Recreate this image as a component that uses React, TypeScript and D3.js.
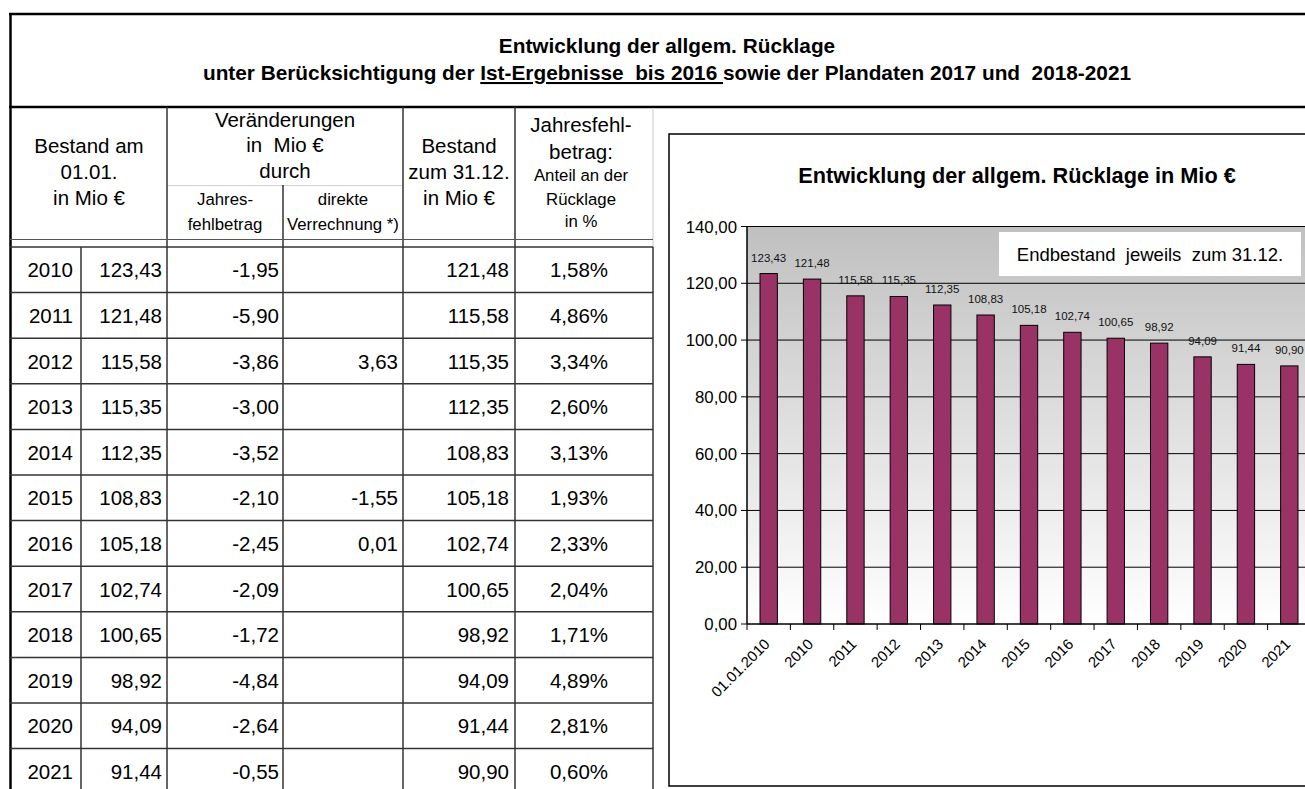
import React from 'react'
import * as d3 from 'd3'

const years = ['2010', '2011', '2012', '2013', '2014', '2015', '2016', '2017', '2018', '2019', '2020', '2021']
const bestandStart = [123.43, 121.48, 115.58, 115.35, 112.35, 108.83, 105.18, 102.74, 100.65, 98.92, 94.09, 91.44]
const fehlbetrag = [-1.95, -5.9, -3.86, -3.0, -3.52, -2.1, -2.45, -2.09, -1.72, -4.84, -2.64, -0.55]
const direkt = [null, null, 3.63, null, null, -1.55, 0.01, null, null, null, null, null]
const bestandEnd = [121.48, 115.58, 115.35, 112.35, 108.83, 105.18, 102.74, 100.65, 98.92, 94.09, 91.44, 90.9]
const anteil = [1.58, 4.86, 3.34, 2.6, 3.13, 1.93, 2.33, 2.04, 1.71, 4.89, 2.81, 0.6]

const chartCats = ['01.01.2010', '2010', '2011', '2012', '2013', '2014', '2015', '2016', '2017', '2018', '2019', '2020', '2021']
const chartValues = [123.43, 121.48, 115.58, 115.35, 112.35, 108.83, 105.18, 102.74, 100.65, 98.92, 94.09, 91.44, 90.9]
const yTicks = [0, 20, 40, 60, 80, 100, 120, 140]

const de = d3.formatLocale({ decimal: ',', thousands: '.', grouping: [3], currency: ['', ' €'], minus: '-' })
const f2 = de.format('.2f')

const FONT = '"Liberation Sans", Arial, sans-serif'

export default function App() {
  // table geometry
  const rowY = d3.scaleBand<string>().domain(years).range([247, 247 + years.length * 45.6])
  const colX = { left: 10, c1: 81, c2: 167, c3: 283, c4: 403, c5: 515, right: 653 }

  // chart scales
  const x = d3.scaleBand<string>().domain(chartCats).range([747, 1311])
  const y = d3.scaleLinear().domain([0, 140]).range([624, 226.5])
  const barW = x.bandwidth() * 0.4

  const tableFs = 20.5
  const cell = (txt: string, xx: number, yy: number, anchor = 'end') => (
    <text x={xx} y={yy} textAnchor={anchor} fontSize={tableFs} fill="#000">{txt}</text>
  )

  return (
    <svg width={1305} height={789} style={{ position: 'absolute', left: 0, top: 0, display: 'block', fontFamily: FONT }}>
      <defs>
        <linearGradient id="plotbg" x1="0" y1="0" x2="0" y2="1">
          <stop offset="0%" stopColor="#c0c0c0" />
          <stop offset="100%" stopColor="#ffffff" />
        </linearGradient>
      </defs>
      <rect x={0} y={0} width={1305} height={789} fill="#fff" />

      {/* frame and title */}
      <line x1={9} x2={1305} y1={14} y2={14} stroke="#000" strokeWidth={2.5} />
      <line x1={9} x2={1305} y1={107} y2={107} stroke="#000" strokeWidth={2.5} />
      <line x1={10.5} x2={10.5} y1={13} y2={789} stroke="#000" strokeWidth={2.5} />
      <text x={667} y={53} textAnchor="middle" fontSize={20.8} fontWeight="bold">Entwicklung der allgem. Rücklage</text>
      <text x={667} y={80} textAnchor="middle" fontSize={20.8} fontWeight="bold" style={{ whiteSpace: 'pre' }}>
        <tspan>unter Berücksichtigung der </tspan>
        <tspan style={{ textDecoration: 'underline' }}>Ist-Ergebnisse  bis 2016 </tspan>
        <tspan>sowie der Plandaten 2017 und  2018-2021</tspan>
      </text>

      {/* table header */}
      <g fontSize={20.5} textAnchor="middle">
        <text x={89} y={153}>Bestand am</text>
        <text x={89} y={179}>01.01.</text>
        <text x={89} y={205}>in Mio €</text>
        <text x={285} y={127}>Veränderungen</text>
        <text x={285} y={152} style={{ whiteSpace: 'pre' }}>in  Mio €</text>
        <text x={285} y={178}>durch</text>
        <text x={459} y={153}>Bestand</text>
        <text x={459} y={179}>zum 31.12.</text>
        <text x={459} y={205}>in Mio €</text>
        <text x={581} y={132}>Jahresfehl-</text>
        <text x={581} y={159}>betrag:</text>
      </g>
      <g fontSize={16.8} textAnchor="middle">
        <text x={225} y={205}>Jahres-</text>
        <text x={225} y={230}>fehlbetrag</text>
        <text x={343} y={205}>direkte</text>
        <text x={343} y={230}>Verrechnung *)</text>
        <text x={581} y={181}>Anteil an der</text>
        <text x={581} y={205}>Rücklage</text>
        <text x={581} y={227}>in %</text>
      </g>
      <line x1={colX.c2} x2={colX.c4} y1={185.5} y2={185.5} stroke="#d0d0d0" strokeWidth={1} />
      <line x1={colX.c2} x2={colX.c2} y1={107} y2={247} stroke="#333" strokeWidth={1.5} />
      <line x1={colX.c4} x2={colX.c4} y1={107} y2={247} stroke="#333" strokeWidth={1.5} />
      <line x1={colX.c5} x2={colX.c5} y1={107} y2={247} stroke="#333" strokeWidth={1.5} />
      <line x1={colX.c3} x2={colX.c3} y1={185} y2={247} stroke="#333" strokeWidth={1.5} />
      <line x1={colX.right} x2={colX.right} y1={108} y2={247} stroke="#ddd" strokeWidth={1.5} />
      <line x1={colX.left} x2={colX.right} y1={239.5} y2={239.5} stroke="#555" strokeWidth={1} />
      <line x1={colX.left} x2={colX.right} y1={247} y2={247} stroke="#333" strokeWidth={1.5} />

      {/* table body */}
      {years.map((yr, i) => {
        const top = rowY(yr) as number
        const bl = top + rowY.bandwidth() / 2 + 7.5
        return (
          <g key={yr}>
            <line x1={colX.left} x2={colX.right} y1={top + rowY.bandwidth()} y2={top + rowY.bandwidth()} stroke="#333" strokeWidth={1.5} />
            {cell(yr, 73, bl)}
            {cell(f2(bestandStart[i]), 162, bl)}
            {cell(f2(fehlbetrag[i]), 279, bl)}
            {direkt[i] !== null ? cell(f2(direkt[i] as number), 398, bl) : null}
            {cell(f2(bestandEnd[i]), 509, bl)}
            {cell(f2(anteil[i]) + '%', 579, bl, 'middle')}
          </g>
        )
      })}
      {[colX.c1, colX.c2, colX.c3, colX.c4, colX.c5, colX.right].map((cx) => (
        <line key={cx} x1={cx} x2={cx} y1={247} y2={789} stroke="#333" strokeWidth={1.5} />
      ))}

      {/* chart box */}
      <rect x={669} y={134} width={760} height={652} fill="#fff" stroke="#000" strokeWidth={1.5} />
      <text x={1017} y={183} textAnchor="middle" fontSize={21.7} fontWeight="bold">Entwicklung der allgem. Rücklage in Mio €</text>

      <rect x={747} y={y(140)} width={1311 - 747} height={y(0) - y(140)} fill="url(#plotbg)" />
      {yTicks.map((t) => (
        <g key={t}>
          {t > 0 && <line x1={747} x2={1311} y1={y(t)} y2={y(t)} stroke="#000" strokeWidth={1} />}
          <line x1={741} x2={747} y1={y(t)} y2={y(t)} stroke="#000" strokeWidth={1} />
          <text x={737} y={y(t) + 6} textAnchor="end" fontSize={16.8}>{f2(t)}</text>
        </g>
      ))}

      <rect x={999} y={232} width={302} height={44} fill="#fff" />
      <text x={1150} y={261} textAnchor="middle" fontSize={18.5} style={{ whiteSpace: 'pre' }}>Endbestand  jeweils  zum 31.12.</text>

      {chartCats.map((c, i) => {
        const cx = (x(c) as number) + x.bandwidth() / 2
        return (
          <g key={c}>
            <rect x={cx - barW / 2} y={y(chartValues[i])} width={barW} height={y(0) - y(chartValues[i])} fill="#993366" stroke="#000" strokeWidth={1} />
            <text x={cx} y={y(chartValues[i]) - 12} textAnchor="middle" fontSize={11.5} fill="#111">{f2(chartValues[i])}</text>
            <text transform={`translate(${cx + 2},${y(0) + 21}) rotate(-45)`} textAnchor="end" fontSize={15}>{c}</text>
          </g>
        )
      })}

      <line x1={747} x2={747} y1={y(140)} y2={y(0)} stroke="#000" strokeWidth={1.5} />
      <line x1={747} x2={1311} y1={y(0)} y2={y(0)} stroke="#000" strokeWidth={1.5} />
      {chartCats.concat(['end']).map((c, i) => {
        const tx = 747 + i * x.bandwidth()
        return <line key={c + 't'} x1={tx} x2={tx} y1={y(0)} y2={y(0) + 6} stroke="#000" strokeWidth={1} />
      })}
    </svg>
  )
}
